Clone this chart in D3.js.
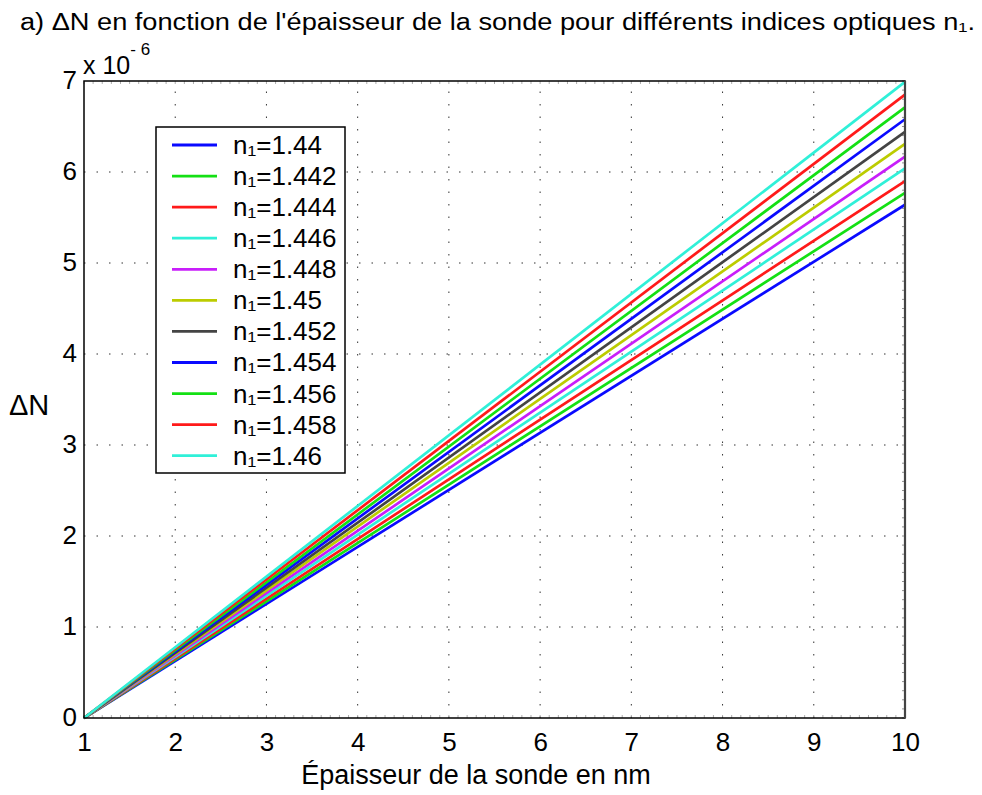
<!DOCTYPE html>
<html><head><meta charset="utf-8">
<script src="https://cdn.jsdelivr.net/npm/d3@7"></script>
<style>body{margin:0;background:#fff;} svg{display:block;font-family:"Liberation Sans",Arial,sans-serif;}</style>
</head><body>
<svg id="c" width="982" height="795"></svg>
<script>
const labels = ["n\u2081=1.44","n\u2081=1.442","n\u2081=1.444","n\u2081=1.446","n\u2081=1.448","n\u2081=1.45","n\u2081=1.452","n\u2081=1.454","n\u2081=1.456","n\u2081=1.458","n\u2081=1.46"];
const colors = ["#0a0aff","#14e014","#ff1a1a","#30f0d8","#c81efa","#bccc00","#444444","#0a0aff","#14e014","#ff1a1a","#30f0d8"];
const thickness = [1, 10];
const endValues = [5.64, 5.77, 5.90, 6.04, 6.17, 6.31, 6.44, 6.58, 6.71, 6.85, 6.99];
const xTicks = [1,2,3,4,5,6,7,8,9,10];
const yTicks = [0,1,2,3,4,5,6,7];

const svg = d3.select("#c");
const L=84, R=905, T=81, B=718;
const x = d3.scaleLinear().domain([1,10]).range([L,R]);
const y = d3.scaleLinear().domain([0,7]).range([B,T]);

// grid
const g = svg.append("g");
xTicks.slice(1,-1).forEach(t=>g.append("line").attr("x1",x(t)).attr("x2",x(t)).attr("y1",B).attr("y2",T)
  .attr("stroke","#333").attr("stroke-width",1).attr("stroke-dasharray","1.5,11"));
yTicks.slice(1,-1).forEach(t=>g.append("line").attr("x1",L).attr("x2",R).attr("y1",y(t)).attr("y2",y(t))
  .attr("stroke","#333").attr("stroke-width",1).attr("stroke-dasharray","1.5,11"));

// minor ticks
const minorX = d3.range(1,10.001,0.1);
minorX.forEach(t=>{
  g.append("line").attr("x1",x(t)).attr("x2",x(t)).attr("y1",B).attr("y2",B-3).attr("stroke","#999").attr("stroke-width",0.8);
  g.append("line").attr("x1",x(t)).attr("x2",x(t)).attr("y1",T).attr("y2",T+3).attr("stroke","#999").attr("stroke-width",0.8);
});
const minorY = d3.range(0,7.001,0.1);
minorY.forEach(t=>{
  g.append("line").attr("x1",R).attr("x2",R-3).attr("y1",y(t)).attr("y2",y(t)).attr("stroke","#777").attr("stroke-width",0.8);
});

// series
const line = d3.line().x(d=>x(d[0])).y(d=>y(d[1]));
endValues.forEach((v,i)=>{
  const pts = [[thickness[0],0],[thickness[1],v]];
  svg.append("path").attr("d",line(pts)).attr("fill","none").attr("stroke",colors[i]).attr("stroke-width",2.7);
});

// axes box
svg.append("rect").attr("x",L).attr("y",T).attr("width",R-L).attr("height",B-T).attr("fill","none").attr("stroke","#000").attr("stroke-width",1.5);
svg.append("line").attr("x1",R).attr("x2",R).attr("y1",T).attr("y2",B).attr("stroke","#444").attr("stroke-width",2.2);

// tick labels
const xa = svg.append("g").attr("transform",`translate(0,${B})`).call(d3.axisBottom(x).tickValues(xTicks).tickSize(0).tickFormat(d3.format("d")));
xa.select(".domain").remove();
xa.selectAll("text").attr("font-size",26).attr("fill","#000").attr("y",33).attr("dy",0).attr("font-family","Liberation Sans, Arial");
const ya = svg.append("g").attr("transform",`translate(${L},0)`).call(d3.axisLeft(y).tickValues(yTicks).tickSize(0).tickFormat(d3.format("d")));
ya.select(".domain").remove();
ya.selectAll("text").attr("font-size",26).attr("fill","#000").attr("x",-7).attr("dy","0.28em").attr("font-family","Liberation Sans, Arial");

// exponent
const ex = svg.append("text").attr("x",83).attr("y",74).attr("font-size",25).attr("fill","#000");
ex.append("tspan").text("x 10");
ex.append("tspan").text("- 6").attr("font-size",17).attr("dy",-19);

// title
svg.append("text").attr("x",20).attr("y",30).attr("font-size",23).attr("fill","#000")
  .attr("textLength",955).attr("lengthAdjust","spacingAndGlyphs")
  .text("a)  \u0394N en fonction de l'épaisseur de la sonde pour différents indices optiques n\u2081.");

// axis labels
svg.append("text").attr("x",476).attr("y",784).attr("text-anchor","middle").attr("font-size",27).attr("fill","#000").text("Épaisseur de la sonde en nm");
svg.append("text").attr("x",9).attr("y",415).attr("font-size",29).attr("fill","#000").text("\u0394N");

// legend
const lg = svg.append("g");
lg.append("rect").attr("x",156).attr("y",127).attr("width",189).attr("height",346).attr("fill","#fff").attr("stroke","#000").attr("stroke-width",1.5);
labels.forEach((lab,i)=>{
  const yy = 145 + i*31.07;
  lg.append("line").attr("x1",172).attr("x2",217).attr("y1",yy).attr("y2",yy).attr("stroke",colors[i]).attr("stroke-width",2.8);
  lg.append("text").attr("x",233).attr("y",yy+9).attr("font-size",26).attr("fill","#000").text(lab);
});
</script>
</body></html>
